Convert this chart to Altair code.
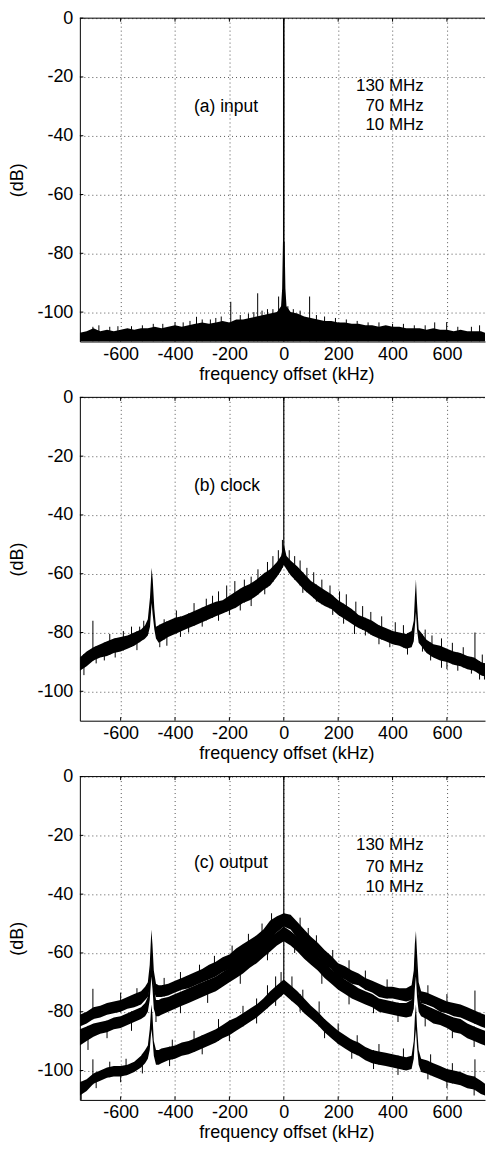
import altair as alt
import numpy as np
import pandas as pd

# ---------------- axes ----------------
X_DOMAIN = [-750, 740]          # the right edge of the original is cut at ~740 kHz
Y_DOMAIN = [-110, 0]
X_TICKS = [-600, -400, -200, 0, 200, 400, 600]
Y_TICKS = [0, -20, -40, -60, -80, -100]
LABEL_X = -330
LEGEND_X = 515
LEGEND = ["130 MHz", "70 MHz", "10 MHz"]

# ---------------- (a) input : noise floor envelope (floor clipped at -110) ----------------
A_X = [-750, -725, -700, -675, -650, -625, -600, -575, -550, -525, -500, -475, -450, -425, -400,
       -375, -350, -325, -300, -275, -250, -225, -200, -175, -150, -125, -100, -75, -50, -25,
       -10, -6, -3, 3, 6, 10, 25, 50, 75, 100, 125, 150, 175, 200, 225, 250, 275, 300, 325, 350,
       375, 400, 425, 450, 475, 500, 525, 550, 575, 600, 625, 650, 675, 700, 725, 740]
A_HI = [-107, -106.5, -105.5, -106.5, -106, -106.5, -106, -105.5, -106, -105.5, -105.5, -105, -105.5, -105, -104.5,
        -105, -104.5, -104, -103.5, -104, -103.5, -103, -103.5, -102.5, -102.5, -102, -101.5, -101, -100.5, -100,
        -98, -92, -76, -76, -92, -98, -100, -100.5, -101.5, -102, -102.5, -103, -103, -103.5, -103.5, -104, -104, -104.5, -104.5, -105,
        -104.5, -105, -105, -105.5, -105.5, -105.5, -106, -105.5, -106, -106, -106.5, -106, -106.5, -106.5, -106.5, -107]
A_FLOOR = -110
A_SPIKE_X = [-702, -680, -640, -610, -560, -520, -480, -445, -400, -370, -345, -321, -300, -270, -250, -230,
             -195, -160, -130, -110, -96, -80, -60, -40, -19, 15, 35, 60, 95, 120, 150, 190, 230, 270, 310,
             350, 400, 440, 480, 520, 555, 599, 640, 690, 720]
A_SPIKE_TOP = [-105, -104.5, -105, -104.8, -104.8, -104.5, -104, -104, -103.5, -103.5, -103, -101.6, -102.5, -102.5, -102, -101.5,
               -96.5, -101, -100.5, -100, -93.6, -99.5, -99, -99, -94.7, -98, -99, -99.5, -94.7, -101, -101.5, -102, -102.5, -103, -103.5,
               -103.5, -104, -104, -104.5, -104.5, -103.5, -103.4, -105, -105, -104.5]
A_CARRIER = [0, -110]

# ---------------- (b) clock ----------------
B_X = [-750, -725, -700, -675, -650, -625, -600, -575, -550, -525, -510, -500, -492, -486, -482, -476, -470, -460,
       -450, -425, -400, -375, -350, -325, -300, -275, -250, -225, -200, -175, -150, -125, -100, -75, -50, -25, -10,
       0, 10, 25, 50, 75, 100, 125, 150, 175, 200, 225, 250, 275, 300, 325, 350, 375, 400, 425, 450, 470, 478, 482,
       486, 490, 496, 505, 525, 550, 575, 600, 625, 650, 675, 700, 725, 740]
B_HI = [-88.5, -86.5, -85, -84, -83, -82, -81.5, -81, -80, -79, -77.5, -75.5, -68, -58, -62, -72, -78, -77.5,
        -77, -76, -75, -74.5, -73.5, -72.5, -71.5, -70.5, -69.5, -69, -67.5, -66, -64.5, -63.5, -62, -60, -58.5, -56, -54,
        -50, -54, -55.5, -57.5, -60, -62.5, -64, -65.5, -67, -69, -70.5, -72, -74, -75, -76, -77.5, -78.5, -79.5, -80, -80.5, -79.5, -76, -68,
        -62, -70, -79, -80, -82.5, -84, -84.5, -85.5, -86.5, -87, -88, -88.5, -90, -90.5]
B_LO = [-93, -91.5, -89.5, -88.5, -88, -87, -86.5, -85.5, -84.5, -83, -82, -81, -78, -70, -74, -79, -82, -83.5,
        -83, -81.5, -80.5, -79.5, -78.5, -77.5, -76.5, -75.5, -74.5, -73.5, -72.5, -71.5, -70, -69, -67.5, -65.5, -64, -61, -59,
        -57, -58.5, -60.5, -63, -65.5, -67.5, -69.5, -71, -72, -74, -75.5, -77, -78.5, -79.5, -81, -82, -83, -84, -84.5, -85.5, -85, -83, -78,
        -73, -79, -83.5, -84.5, -87, -88.5, -89.5, -90, -91, -91.5, -92.5, -93, -94.5, -95]
B_SPIKE_X = [-702, -640, -590, -560, -530, -515, -440, -395, -330, -285, -262, -240, -210, -180, -145, -120, -95, -60,
             -40, -20, -5, 20, 40, 60, 85, 110, 140, 170, 205, 230, 265, 290, 320, 360, 410, 440, 520, 545, 580, 620,
             660, 703, 730]
B_SPIKE_TOP = [-76, -80.5, -79.5, -78, -78, -76, -75.5, -72.5, -70, -68.5, -67.5, -66, -64, -62.5, -62, -61, -58.5, -56,
               -54, -52, -48.5, -52, -54, -55.5, -58, -59.5, -62, -64, -66, -67, -69.5, -71, -73, -74.5, -76.5, -77.5, -79, -81, -82, -83.5,
               -85, -80, -87.5]
B_DIP_X = [-735, -690, -660, -620, -540, -456, -430, -380, -350, -300, -240, -200, -160, -120, -70, 70, 120, 180,
           220, 260, 300, 350, 390, 455, 510, 540, 580, 600, 640, 690, 720, 738]
B_DIP_BOT = [-94.5, -90.5, -89.5, -88.5, -86, -85, -84.5, -81.5, -80, -78, -76, -74, -72.5, -71, -67, -66.5, -69.5, -74,
             -77, -80.5, -81, -84, -85, -87.5, -86.5, -89.5, -92, -92.5, -93, -94, -96, -96]
B_CARRIER = [0, -57]

# ---------------- (c) output : three traces ----------------
C_X = [-750, -725, -700, -675, -650, -625, -600, -575, -550, -525, -510, -500, -493, -487, -483, -478, -470, -460,
       -450, -425, -400, -375, -350, -325, -300, -275, -250, -225, -200, -175, -150, -125, -100, -75, -50, -25,
       0, 25, 50, 75, 100, 125, 150, 175, 200, 225, 250, 275, 300, 325, 350, 375, 400, 425, 450, 470, 478, 482,
       486, 490, 496, 505, 525, 550, 575, 600, 625, 650, 675, 700, 725, 740]
C1_HI = [-81, -80, -78.5, -78, -77, -76.5, -76, -75, -74, -73, -71.5, -70, -64, -52, -57, -66, -70.5, -71,
         -71, -70.5, -69.5, -68.5, -67.5, -66.5, -65.5, -64, -63, -61.5, -60.5, -58.5, -57, -55.5, -54, -52, -49, -47.5,
         -46.5, -47, -49.5, -52, -54.5, -56.5, -59, -61, -63.5, -64.5, -66, -67, -68.5, -69.5, -70.5, -71.5, -71.5, -72, -72, -71, -66, -57,
         -52.5, -60, -70, -73, -73.5, -74.5, -75.5, -76.5, -77, -77.5, -78.5, -79.5, -80.5, -81]
C1_LO = [-85, -84, -82.5, -82, -81, -80.5, -80, -79, -78.5, -77.5, -76, -75, -72, -62, -67, -73, -75, -75,
         -75, -74.5, -73.5, -72.5, -72, -71, -70, -69, -68, -66.5, -65.5, -64, -62.5, -61, -59.5, -57.5, -55, -53,
         -51, -52, -55, -57.5, -60, -61.5, -64, -65.5, -68, -69, -70.5, -71, -72.5, -73.5, -75, -75.5, -75.5, -76, -76.5, -76, -74, -68,
         -62, -70, -75, -77, -77.5, -78.5, -80, -80.5, -81.5, -82, -83, -84, -85, -85.5]
C2_HI = [-86, -85, -84, -83.5, -83, -82, -81.5, -80.5, -79.5, -78.5, -77, -75, -68, -58, -62, -71, -76, -76,
         -75.5, -75, -74, -73, -72, -71, -70, -69, -68, -66.5, -65, -63.5, -62, -60, -58.5, -56.5, -54.5, -53,
         -51, -52.5, -54.5, -56.5, -58.5, -61, -63.5, -65.5, -67.5, -69, -70.5, -72, -73, -74, -75.5, -76, -76.5, -77, -77, -76, -71, -62,
         -58, -66, -74, -77, -78, -79, -80, -81, -82, -82.5, -84, -85, -86, -86.5]
C2_LO = [-91.5, -90, -88.5, -87.5, -87, -86, -85.5, -84.5, -83.5, -82.5, -81.5, -80, -76, -68, -72, -79, -81.5, -81.5,
         -81, -80, -79, -78, -77, -76, -75, -74, -73, -71.5, -70, -68.5, -67, -65, -63.5, -61.5, -59.5, -57.5,
         -56, -57.5, -59.5, -62, -64, -66, -68.5, -70.5, -72.5, -74, -75.5, -76.5, -77.5, -78.5, -80, -80.5, -81, -81.5, -82, -81.5, -79, -72,
         -68, -75, -80, -81.5, -82.5, -84, -84.5, -85.5, -87, -87.5, -89, -90, -91, -91.5]
C3_HI = [-104, -103, -101, -100, -99, -98.5, -98.5, -98, -97, -95, -93, -91.5, -86, -77.5, -81, -90, -93, -93,
         -92.5, -92, -91.5, -90.5, -90, -89, -88, -87, -86, -84.5, -83, -82, -80.5, -79, -77.5, -75.5, -73, -71,
         -69, -71, -73, -75.5, -78, -80, -82.5, -84.5, -86.5, -88, -89.5, -90.5, -92, -93, -93.5, -94, -94.5, -95, -95.5, -95, -90, -82,
         -77.5, -85, -93, -96, -96.5, -97.5, -98.5, -99.5, -100, -100.5, -101.5, -102, -103.5, -104.5]
C3_LO = [-108.5, -107, -104.5, -103.5, -102.5, -102, -102, -101.5, -100.5, -99, -97.5, -96, -93, -86, -89, -95, -98, -98,
         -97.5, -96.5, -96, -95, -94.5, -93.5, -92.5, -91.5, -90.5, -89, -88, -86.5, -85, -83.5, -82, -80, -78, -76,
         -74, -76, -78, -80.5, -82.5, -84.5, -87, -89, -91, -92.5, -94, -95, -96.5, -97.5, -98, -98.5, -99, -99.5, -100, -99.5, -96, -90,
         -86, -92, -98, -100.5, -101, -102, -103, -104, -104.5, -105, -106, -106.5, -108, -108.5]
C1_SPIKE_X = [-702, -600, -540, -440, -380, -310, -255, -190, -130, -80, -45, 60, 90, 120, 180, 240, 300, 380, 530, 600, 703]
C1_SPIKE_TOP = [-72.2, -73.5, -72, -68.5, -66.5, -64, -61, -57.5, -53.5, -50, -46.5, -48, -51.5, -54, -59, -62.5, -66, -69, -71, -74, -72.8]
C2_DIP_X = [-720, -650, -560, -470, -380, -280, -160, -60, 40, 140, 240, 330, 420, 520, 620, 700]
C2_DIP_BOT = [-93, -89, -86.5, -83.5, -80.5, -77, -70.5, -62.5, -60, -70.5, -77.5, -80.5, -83.5, -85, -89, -92]
C3_SPIKE_X = [-702, -640, -580, -410, -330, -240, -150, -100, -60, -30, -10, 30, 70, 130, 200, 270, 350, 440, 540, 620, 703]
C3_SPIKE_TOP = [-96.2, -97, -96, -89.5, -86.5, -82.5, -78, -75.5, -71, -68, -66.5, -68, -72.5, -76.5, -84, -88, -91, -92.5, -94.5, -97.5, -96.2]
C3_DIP_X = [-745, -690, -600, -520, -420, -300, -200, -100, -30, 60, 150, 250, 330, 420, 530, 600, 700]
C3_DIP_BOT = [-110, -106, -104, -101, -98.5, -94.5, -90, -84, -78, -80, -89, -96, -99.5, -101.5, -103, -106, -108.5]
C_CARRIER = [0, -72]

W = 406
H = 324
FONT = "Liberation Sans"


def band(x, hi, lo):
    return pd.DataFrame({"x": x, "hi": hi, "lo": lo})


def spikes(sx, stop, x, lo):
    base = np.interp(sx, x, lo)
    return pd.DataFrame({"x": sx, "top": stop, "base": base})


def dips(sx, sbot, x, hi):
    base = np.interp(sx, x, hi)
    return pd.DataFrame({"x": sx, "top": base, "base": sbot})


xs = alt.Scale(domain=X_DOMAIN, nice=False, zero=False)
ys = alt.Scale(domain=Y_DOMAIN, nice=False, zero=False)

x_axis = alt.Axis(values=X_TICKS, labelExpr="'' + datum.value", grid=True, ticks=False,
                  title="frequency offset (kHz)", titleX=207, labelPadding=4, titlePadding=2)
y_axis = alt.Axis(values=Y_TICKS, labelExpr="'' + datum.value", grid=True, ticks=False,
                  title="(dB)", labelPadding=7, titlePadding=10)


def area_layer(df):
    return alt.Chart(df).mark_area(color="black", clip=True, opacity=1).encode(
        x=alt.X("x:Q", scale=xs, axis=x_axis),
        y=alt.Y("hi:Q", scale=ys, axis=y_axis),
        y2="lo:Q",
    )


def rule_layer(df, width=1.0):
    return alt.Chart(df).mark_rule(color="black", clip=True, strokeWidth=width).encode(
        x=alt.X("x:Q", scale=xs), y=alt.Y("top:Q", scale=ys), y2="base:Q"
    )


def carrier(vals, width=1.2):
    df = pd.DataFrame({"x": [0], "top": [vals[0]], "base": [vals[1]]})
    return rule_layer(df, width)


def frame():
    top = alt.Chart(pd.DataFrame({"a": [0]})).mark_rule(color="black", strokeWidth=1).encode(
        x=alt.value(0), x2=alt.value(W), y=alt.value(0))
    tx = pd.DataFrame({"x": X_TICKS})
    tick_top = alt.Chart(tx).mark_rule(color="black").encode(
        x=alt.X("x:Q", scale=xs), y=alt.value(0), y2=alt.value(3.5))
    tick_bot = alt.Chart(tx).mark_rule(color="black").encode(
        x=alt.X("x:Q", scale=xs), y=alt.value(H), y2=alt.value(H - 3.5))
    ty = pd.DataFrame({"y": Y_TICKS})
    tick_left = alt.Chart(ty).mark_rule(color="black").encode(
        y=alt.Y("y:Q", scale=ys), x=alt.value(0), x2=alt.value(3.5))
    return [top, tick_top, tick_bot, tick_left]


def label(text, y):
    return alt.Chart(pd.DataFrame({"x": [LABEL_X], "y": [y], "t": [text]})).mark_text(
        align="left", baseline="middle", fontSize=17.5, font=FONT, color="black"
    ).encode(x=alt.X("x:Q", scale=xs), y=alt.Y("y:Q", scale=ys), text="t:N")


def legend(ys_list):
    df = pd.DataFrame({"x": [LEGEND_X] * 3, "y": ys_list, "t": LEGEND})
    return alt.Chart(df).mark_text(
        align="right", baseline="middle", fontSize=17, font=FONT, color="black"
    ).encode(x=alt.X("x:Q", scale=xs), y=alt.Y("y:Q", scale=ys), text="t:N")


floor_a = [A_FLOOR] * len(A_X)

# panel a
pa = alt.layer(
    area_layer(band(A_X, A_HI, floor_a)),
    rule_layer(spikes(A_SPIKE_X, A_SPIKE_TOP, A_X, floor_a)),
    carrier(A_CARRIER, 1.6),
    label("(a) input", -30.3),
    legend([-23.2, -29.8, -36.4]),
    *frame(),
).properties(width=W, height=H)

# panel b
pb = alt.layer(
    area_layer(band(B_X, B_HI, B_LO)),
    rule_layer(spikes(B_SPIKE_X, B_SPIKE_TOP, B_X, B_LO)),
    rule_layer(dips(B_DIP_X, B_DIP_BOT, B_X, B_HI)),
    carrier(B_CARRIER),
    label("(b) clock", -30.2),
    *frame(),
).properties(width=W, height=H)

# panel c
pc = alt.layer(
    area_layer(band(C_X, C1_HI, C1_LO)),
    area_layer(band(C_X, C2_HI, C2_LO)),
    area_layer(band(C_X, C3_HI, C3_LO)),
    rule_layer(spikes(C1_SPIKE_X, C1_SPIKE_TOP, C_X, C1_LO)),
    rule_layer(dips(C2_DIP_X, C2_DIP_BOT, C_X, C2_HI)),
    rule_layer(spikes(C3_SPIKE_X, C3_SPIKE_TOP, C_X, C3_LO)),
    rule_layer(dips(C3_DIP_X, C3_DIP_BOT, C_X, C3_HI)),
    carrier(C_CARRIER),
    label("(c) output", -29.5),
    legend([-23.4, -30.6, -37.6]),
    *frame(),
).properties(width=W, height=H)

chart = alt.vconcat(pa, pb, pc, spacing=5).properties(
    padding={"left": 0, "top": 0, "right": 0, "bottom": 0},
).configure_view(stroke=None).configure_axis(
    labelFont=FONT, titleFont=FONT, labelFontSize=18, titleFontSize=18, titleFontWeight="normal",
    labelColor="black", titleColor="black", domainColor="black", domainWidth=1,
    gridColor="#555", gridDash=[1, 3], gridWidth=1,
)

chart.save("out.html", embed_options={"renderer": "svg", "actions": False})
